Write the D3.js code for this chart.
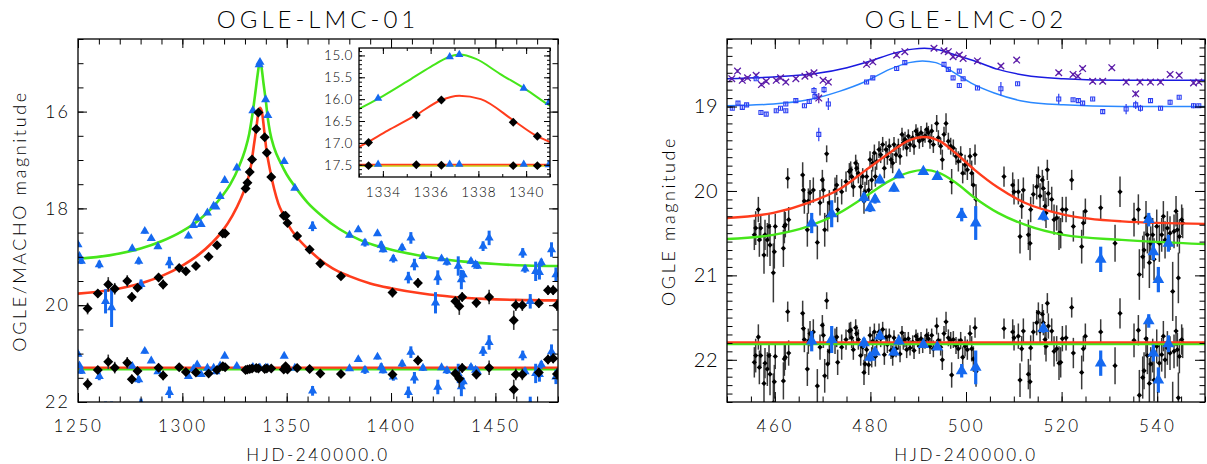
<!DOCTYPE html>
<html><head><meta charset="utf-8">
<script src="https://cdn.jsdelivr.net/npm/d3@7"></script>
<style>
body{margin:0;background:#fff}
svg{display:block}
text{font-family:Lato,'Open Sans',sans-serif;font-weight:300;fill:#000}
</style></head><body>
<svg id="c" width="1207" height="464"></svg>
<script>
// ---------------- Panel 1: OGLE-LMC-01 ----------------
const titles = ["OGLE-LMC-01", "OGLE-LMC-02"];
const xTitle = "HJD-240000.0";
const yTitles = ["OGLE/MACHO magnitude", "OGLE magnitude"];
const p1XTicks = [1250, 1300, 1350, 1400, 1450];
const p1YTicks = [16, 18, 20, 22];
const p1InsetXTicks = [1334, 1336, 1338, 1340];
const p1InsetYTicks = [15.0, 15.5, 16.0, 16.5, 17.0, 17.5];

// model fits
const p1GreenT = [1250,1265,1280,1290,1300,1308,1314,1319,1323,1327,1330,1332,1333,1334,1335,1336,1336.8,1337.2,1337.9,1338.9,1340,1341,1342,1344,1347,1350,1354,1360,1367,1375,1385,1395,1405,1420,1435,1450,1465,1480];
const p1GreenM = [19.04,18.97,18.83,18.68,18.47,18.24,18.0,17.75,17.5,17.15,16.8,16.47,16.22,15.93,15.6,15.26,15.03,14.98,15.08,15.42,15.78,16.15,16.42,16.75,17.05,17.3,17.55,17.88,18.16,18.42,18.65,18.8,18.9,19.02,19.1,19.15,19.18,19.19];
const p1RedT = [1250,1265,1280,1290,1300,1308,1314,1319,1324,1328,1330.3,1332,1333,1334.2,1335.4,1336.4,1337.2,1338.1,1339.5,1340.4,1341,1342.6,1344,1346,1348.6,1351,1355,1361,1366,1372,1380,1390,1400,1415,1430,1445,1460,1480];
const p1RedM = [19.76,19.69,19.55,19.4,19.18,18.95,18.72,18.48,18.15,17.8,17.55,17.3,17.09,16.72,16.36,16.03,15.92,16.0,16.5,16.83,16.98,17.33,17.6,17.9,18.15,18.36,18.6,18.87,19.06,19.24,19.4,19.55,19.65,19.76,19.83,19.87,19.89,19.9];
const p1Resid = 21.3;
const p1InsetResid = 17.5;

// OGLE (black diamonds)
const p1BlackT = [1254.6,1259.5,1264.5,1267.6,1273.6,1275.8,1278.5,1288.6,1290.8,1298.5,1301.7,1306.5,1312.6,1316.6,1319.4,1320.5,1330.3,1331.2,1332.3,1333.4,1335.4,1336.45,1339.46,1340.47,1342.6,1348.6,1349.5,1350.4,1355,1361,1366.1,1376,1400.7,1412.9,1430.8,1432.7,1434.1,1440.9,1447,1458.8,1459.8,1462.9,1470.8,1475.2,1477.7,1479.5];
const p1BlackM = [20.07,19.76,19.57,19.66,19.5,19.83,19.64,19.43,19.57,19.23,19.3,19.19,19.0,18.76,18.52,18.52,17.59,17.47,17.25,16.99,16.36,16.02,16.53,16.85,17.35,18.15,18.15,18.3,18.57,18.85,19.14,19.4,19.74,19.54,19.92,20.02,19.83,19.95,19.83,20.31,20.0,20.0,19.96,19.69,19.69,20.0];
const p1BlackE = [0.12,0.08,0.15,0.12,0.12,0.1,0.08,0.08,0.1,0.07,0.08,0.07,0.06,0.05,0.05,0.05,0.04,0.04,0.04,0.04,0.03,0.03,0.04,0.05,0.04,0.05,0.05,0.05,0.05,0.06,0.08,0.08,0.1,0.1,0.1,0.18,0.1,0.1,0.15,0.2,0.12,0.12,0.1,0.1,0.1,0.12];
const p1BlackR = [21.63,21.34,21.17,21.29,21.19,21.53,21.36,21.29,21.45,21.28,21.38,21.39,21.41,21.34,21.26,21.28,21.34,21.33,21.32,21.31,21.3,21.31,21.32,21.31,21.31,21.33,21.26,21.33,21.3,21.32,21.41,21.42,21.43,21.14,21.41,21.52,21.3,21.43,21.29,21.74,21.43,21.43,21.39,21.12,21.1,21.42];

// MACHO (blue triangles)
const p1BlueT = [1250,1250.7,1251.6,1260.2,1263.2,1266.1,1276,1279.1,1280.2,1282,1285.1,1288.3,1293.8,1302.9,1305.3,1307.1,1309,1312,1315,1316.1,1318.1,1320.3,1326.1,1333.8,1336.8,1337.2,1339.9,1340.95,1348.8,1353.9,1362.4,1380.1,1384.3,1387.5,1393.5,1395.3,1396.2,1401.1,1405.3,1408.3,1409.5,1411.2,1415.3,1421.3,1422.4,1424.2,1426.8,1432.2,1433.7,1434.6,1438.3,1440.5,1441.4,1444.1,1447,1463.1,1464.2,1466.7,1469.3,1471.1,1472,1476.9,1479];
const p1BlueM = [18.75,18.99,19.09,19.16,19.92,20.05,18.83,19.09,19.57,18.47,18.62,18.79,19.12,18.57,18.35,18.2,18.33,18.09,17.95,17.97,17.75,17.42,17.16,15.98,15.03,14.98,15.75,16.08,17.03,17.58,18.37,18.55,18.44,18.71,18.52,18.76,18.85,19.04,18.81,19.43,18.61,19.16,18.99,19.95,19.43,19.04,19.11,19.19,19.47,19.37,19.09,19.16,19.19,18.78,18.61,18.92,19.25,19.92,19.3,19.32,19.12,18.85,19.37];
const p1BlueE = [0.05,0.05,0.06,0.08,0.25,0.4,0.04,0.07,0.1,0.05,0.04,0.05,0.12,0.05,0.04,0.04,0.03,0.03,0.03,0.03,0.03,0.03,0.03,0.02,0.02,0.02,0.02,0.02,0.03,0.03,0.1,0.05,0.04,0.08,0.05,0.08,0.06,0.08,0.07,0.12,0.12,0.12,0.06,0.22,0.15,0.05,0.07,0.2,0.2,0.08,0.06,0.07,0.06,0.1,0.15,0.1,0.08,0.15,0.2,0.15,0.08,0.15,0.15];
const p1BlueR = [21.01,21.25,21.36,21.47,22.24,22.39,21.26,21.54,22.03,20.95,21.15,21.37,21.8,21.47,21.32,21.23,21.43,21.3,21.3,21.37,21.25,21.05,21.26,21.28,21.3,21.3,21.3,21.3,21.05,21.3,21.77,21.31,21.12,21.34,21.07,21.28,21.35,21.48,21.21,21.8,20.97,21.5,21.3,22.22,21.69,21.29,21.35,21.41,21.68,21.58,21.28,21.34,21.37,20.95,20.77,21.04,21.37,22.04,21.41,21.43,21.23,20.96,21.48];

// inset residual rows
const insetBlackT = [1333.4,1335.4,1336.45,1339.46,1340.47];
const insetBlackR = [17.52,17.5,17.51,17.52,17.52];
const insetBlueT = [1333.8,1336.8,1337.2,1339.9,1340.95];
const insetBlueR = [17.49,17.49,17.49,17.49,17.5];

// ---------------- Panel 2: OGLE-LMC-02 ----------------
const p2XTicks = [460, 480, 500, 520, 540];
const p2YTicks = [19, 20, 21, 22];
const p2Resid = 21.8;

const p2DarkT = [450,459.7,468.6,475.1,480,484.8,488.9,491.3,494.5,497.8,501.8,506.7,512.3,520.4,532.6,550];
const p2DarkM = [18.67,18.65,18.61,18.54,18.46,18.37,18.32,18.31,18.33,18.39,18.46,18.56,18.63,18.67,18.69,18.69];
const p2LightT = [450,459.7,467,473.5,479.1,484,488.1,490.9,493.7,497,501,505.9,512.3,520.4,532.6,550];
const p2LightM = [18.99,18.97,18.92,18.82,18.70,18.56,18.48,18.46,18.48,18.58,18.72,18.84,18.94,18.98,19.0,19.0];
const p2RedT = [450,459.7,467,473.5,479.1,484,488.1,491.3,494.5,497.8,501.8,506.7,512.3,520.4,532.6,550];
const p2RedM = [20.32,20.26,20.14,19.98,19.75,19.55,19.40,19.36,19.41,19.55,19.75,19.96,20.14,20.28,20.36,20.39];
const p2GreenT = [450,459.7,467,473.5,479.1,484,488.1,491.3,494.5,497.8,501.8,506.7,512.3,520.4,532.6,550];
const p2GreenM = [20.57,20.52,20.42,20.26,20.06,19.88,19.78,19.75,19.79,19.9,20.08,20.26,20.4,20.52,20.58,20.63];

// crosses (purple)
const p2CrossT = [451.0,452.2,453.2,454.3,456.1,457.2,458.2,460.3,461.2,462.3,464.4,466.3,467.2,468.2,469.2,470.1,471.2,479.2,480.5,485.5,487.2,493.3,495.4,496.3,497.3,498.6,499.4,502.4,507.3,510.6,519.4,522.4,523.4,524.4,526.5,528.6,530.5,533.5,535.5,536.4,538.6,540.7,542.7,544.6,547.6,548.7];
const p2CrossM = [18.67,18.58,18.69,18.66,18.63,18.74,18.70,18.69,18.66,18.71,18.67,18.64,18.62,18.6,18.9,18.69,18.71,18.5,18.47,18.39,18.35,18.31,18.34,18.35,18.41,18.39,18.43,18.46,18.52,18.45,18.6,18.62,18.64,18.55,18.70,18.70,18.54,18.71,18.85,18.71,18.71,18.71,18.62,18.63,18.72,18.71];
const p2CrossE = [0.02,0.02,0.02,0.02,0.02,0.02,0.02,0.02,0.02,0.02,0.02,0.02,0.02,0.02,0.06,0.02,0.02,0.02,0.02,0.02,0.02,0.02,0.02,0.02,0.02,0.02,0.02,0.02,0.02,0.02,0.02,0.02,0.02,0.02,0.02,0.02,0.02,0.02,0.03,0.02,0.02,0.02,0.02,0.02,0.02,0.02];

// squares (blue)
const p2SqT = [451.1,452.3,453.2,454.1,456.1,457.1,458.2,460.3,461.2,462.3,462.3,464.4,466.2,467.2,468.2,468.4,469.2,470.3,471.2,479.2,480.5,485.5,487.2,495.4,496.3,497.3,498.6,498.6,499.4,502.4,507.3,510.8,519.4,522.4,523.5,524.4,526.5,528.6,533.5,535.5,536.5,538.6,540.7,542.7,544.6,547.6,548.7];
const p2SqM = [19.02,18.96,19.01,18.98,18.67,19.07,19.09,19.05,19.02,19.05,18.97,18.93,18.99,18.94,18.81,18.88,19.33,18.8,18.97,18.71,18.66,18.55,18.48,18.5,18.56,18.66,18.58,18.75,18.67,18.78,18.79,18.73,18.91,18.92,18.93,18.96,18.91,19.06,19.03,18.98,19.02,18.93,19.02,18.95,18.89,18.99,18.99];
const p2SqE = [0.02,0.02,0.02,0.02,0.02,0.02,0.02,0.02,0.02,0.02,0.02,0.02,0.02,0.02,0.04,0.04,0.08,0.04,0.07,0.02,0.02,0.02,0.02,0.02,0.02,0.02,0.02,0.02,0.02,0.02,0.08,0.02,0.06,0.02,0.02,0.02,0.02,0.02,0.06,0.05,0.04,0.02,0.02,0.03,0.02,0.03,0.02];

// OGLE black points
const p2BlackT = [455.72,456.0,456.56,456.77,457.05,457.74,457.95,458.44,458.79,459.0,459.7,459.9,460.1,461.8,462.0,462.2,462.7,462.9,
465.83,465.97,466.18,466.81,467.02,467.37,468.06,468.9,469.46,469.95,470.16,470.44,470.85,471.06,471.41,472.6,472.95,473.15,473.99,
474.9,475.6,475.87,476.08,476.43,476.92,477.13,477.48,477.97,478.39,478.66,478.87,479.22,479.64,479.92,480.27,480.48,480.83,481.04,481.31,
481.8,482.15,482.57,482.92,483.27,483.55,483.96,484.31,484.66,484.94,485.36,485.85,486.2,486.61,486.89,487.24,487.59,487.94,488.29,
488.85,489.13,489.54,489.89,490.24,490.59,490.94,491.43,491.78,492.12,492.47,492.82,493.17,493.87,494.22,494.7,495.05,495.4,495.82,496.31,496.8,497.0,497.35,
497.91,498.4,498.89,499.31,499.8,500.28,500.84,501.19,501.54,501.89,502.1,
507.95,509.77,510.05,510.95,511.3,511.65,512.0,513.05,513.4,513.53,514.09,514.79,515.14,515.49,515.97,516.18,516.53,516.74,517.02,517.23,
517.93,518.42,518.97,519.46,519.81,520.16,520.93,522.11,522.46,524.2,524.55,524.97,
528.18,531.18,532.22,
535.15,536.06,536.27,536.97,537.25,537.66,537.94,538.36,538.64,539.06,539.34,539.9,540.45,540.94,541.29,541.64,542.13,542.68,543.24,543.52,543.94,544.22,544.43,544.64,545.12,545.33];
const p2BlackM = [20.52,20.44,20.22,20.58,20.44,20.76,20.52,20.58,20.42,20.64,20.97,20.72,20.42,20.68,20.42,20.40,19.85,20.34,
19.81,19.99,20.12,20.46,20.12,20.02,19.99,20.61,20.14,19.87,19.99,20.46,19.56,20.30,20.14,19.99,19.93,20.22,20.01,
19.89,19.77,19.75,19.83,19.95,19.67,19.73,19.79,19.95,19.83,20.12,20.01,19.83,19.99,19.63,19.87,19.67,19.55,19.83,19.65,
19.51,19.57,19.45,19.73,19.51,19.59,19.47,19.63,19.67,19.45,19.57,19.47,19.59,19.33,19.43,19.39,19.49,19.35,19.45,
19.37,19.47,19.29,19.33,19.41,19.31,19.39,19.35,19.27,19.31,19.41,19.29,19.45,19.20,19.37,19.47,19.63,19.33,19.20,19.41,19.47,19.89,19.49,
19.59,19.65,19.57,19.79,19.69,19.75,19.59,19.79,19.93,19.57,20.10,
19.83,19.93,20.01,20.01,20.54,20.18,19.99,20.52,20.62,20.22,20.04,19.95,19.83,20.06,19.87,19.97,20.18,20.26,19.75,20.03,
20.10,20.34,20.32,20.50,20.50,20.22,20.22,19.87,20.42,20.66,20.38,20.24,
20.20,20.62,20.01,
20.34,20.22,20.99,20.78,20.70,20.32,20.52,20.85,20.62,20.52,20.81,20.42,20.62,20.52,20.30,20.58,20.44,20.50,21.19,20.48,20.24,20.46,21.03,20.54,20.34,20.38];
const p2BlackE = [0.18,0.2,0.15,0.2,0.15,0.22,0.18,0.2,0.15,0.25,0.35,0.2,0.15,0.22,0.2,0.15,0.12,0.15,
0.15,0.18,0.15,0.2,0.15,0.15,0.15,0.2,0.15,0.12,0.15,0.2,0.1,0.18,0.15,0.15,0.12,0.15,0.15,
0.12,0.1,0.1,0.12,0.12,0.1,0.1,0.12,0.12,0.1,0.15,0.12,0.1,0.12,0.1,0.12,0.1,0.1,0.12,0.1,
0.1,0.1,0.09,0.12,0.1,0.1,0.09,0.1,0.12,0.09,0.1,0.09,0.1,0.08,0.09,0.09,0.1,0.08,0.09,
0.08,0.1,0.08,0.08,0.09,0.08,0.09,0.08,0.08,0.08,0.09,0.08,0.1,0.1,0.09,0.1,0.12,0.09,0.12,0.1,0.1,0.15,0.1,
0.1,0.12,0.1,0.12,0.12,0.12,0.1,0.15,0.15,0.12,0.18,
0.12,0.15,0.15,0.15,0.2,0.15,0.15,0.18,0.2,0.15,0.12,0.15,0.12,0.15,0.12,0.15,0.18,0.18,0.12,0.15,
0.15,0.18,0.15,0.2,0.18,0.15,0.15,0.12,0.18,0.2,0.15,0.15,
0.15,0.22,0.18,
0.2,0.18,0.3,0.25,0.22,0.2,0.22,0.3,0.2,0.2,0.25,0.2,0.22,0.2,0.18,0.22,0.2,0.2,0.35,0.2,0.18,0.2,0.3,0.2,0.18,0.18];
const p2BlackR = [22.03,21.95,21.73,22.09,21.95,22.28,22.04,22.11,21.95,22.17,22.51,22.26,21.96,22.25,21.99,21.97,21.43,21.92,
21.45,21.63,21.76,22.11,21.78,21.69,21.67,22.31,21.85,21.59,21.71,22.19,21.30,22.05,21.9,21.78,21.73,22.03,21.85,
21.76,21.66,21.65,21.74,21.88,21.62,21.69,21.76,21.95,21.85,22.15,22.05,21.88,22.06,21.71,21.97,21.78,21.67,21.96,21.79,
21.67,21.75,21.64,21.94,21.73,21.82,21.72,21.89,21.95,21.74,21.87,21.79,21.93,21.68,21.79,21.76,21.88,21.75,21.86,
21.79,21.89,21.72,21.76,21.84,21.75,21.83,21.79,21.71,21.75,21.84,21.71,21.87,21.60,21.77,21.85,22.0,21.69,21.55,21.74,21.77,22.18,21.76,
21.83,21.87,21.77,21.97,21.84,21.88,21.69,21.87,21.99,21.62,22.14,
21.63,21.67,21.74,21.72,22.24,21.87,21.66,22.17,22.26,21.86,21.67,21.56,21.44,21.66,21.46,21.56,21.76,21.84,21.33,21.60,
21.66,21.90,21.87,22.04,22.03,21.75,21.74,21.38,21.92,22.15,21.87,21.72,
21.67,22.07,21.45,
21.77,21.65,22.42,22.21,22.13,21.75,21.95,22.28,22.05,21.95,22.24,21.84,22.04,21.94,21.72,22.0,21.86,21.92,22.61,21.90,21.66,21.88,22.45,21.96,21.76,21.80];

// blue arrows
const p2BlueT = [467.72,471.9,478.66,479.92,480.97,482.0,484.94,485.99,491.08,494.0,499.1,502.03,516.18,528.18,538.23,539.2,540.24,542.34];
const p2BlueM = [20.38,20.27,20.08,20.20,20.10,19.87,19.97,19.81,19.77,19.83,20.28,20.38,20.30,20.81,20.34,20.72,21.05,20.62];
const p2BlueE = [0.12,0.16,0.06,0.05,0.05,0.04,0.04,0.04,0.03,0.03,0.08,0.2,0.05,0.15,0.08,0.1,0.15,0.1];
const p2BlueR = [21.78,21.76,21.80,21.97,21.91,21.72,21.91,21.78,21.82,21.85,22.13,22.09,21.63,22.04,21.54,21.92,22.24,21.81];

// ---------------- drawing ----------------
const C = {
  black: "#000", ebar: "#3a3a3a", blue: "#1569f0", green: "#46e61a", red: "#ff3c1c",
  purple: "#5a1aa8", darkblue: "#1a1ae0", lightblue: "#2a88ff", square: "#2b3ef2"
};
const svg = d3.select("#c");
const FONT = "Lato,'Open Sans',sans-serif";

function ticksAll(g, x, y, cfg) {
  const [x0, x1] = x.range(), [y0, y1] = y.range(); // y0 top, y1 bottom
  const sides = [
    [d3.axisBottom, x, `translate(0,${y1})`, true, cfg.xMinor, cfg.xMajor],
    [d3.axisTop, x, `translate(0,${y0})`, false, cfg.xMinor, cfg.xMajor],
    [d3.axisLeft, y, `translate(${x0},0)`, true, cfg.yMinor, cfg.yMajor],
    [d3.axisRight, y, `translate(${x1},0)`, false, cfg.yMinor, cfg.yMajor]
  ];
  sides.forEach(([fn, sc, tr, lab, minor, major], i) => {
    const isX = i < 2;
    const mn = g.append("g").attr("transform", tr)
      .call(fn(sc).tickValues(minor).tickSizeInner(-cfg.minorLen).tickSizeOuter(0).tickFormat(""));
    mn.select(".domain").remove();
    const a = fn(sc).tickValues(major).tickSizeInner(-cfg.majorLen).tickSizeOuter(0)
      .tickPadding(isX ? cfg.xPad : cfg.yPad)
      .tickFormat(lab ? (isX ? cfg.xFmt : cfg.yFmt) : "");
    const mj = g.append("g").attr("transform", tr).call(a);
    mj.select(".domain").remove();
    g.selectAll("line").attr("stroke", "#000").attr("stroke-width", 1);
    mj.selectAll("text").attr("font-family", FONT).attr("font-weight", 300)
      .attr("font-size", isX ? cfg.xFont : cfg.yFont)
      .attr("letter-spacing", isX ? cfg.xLs : cfg.yLs).attr("fill", "#000");
  });
  g.append("rect").attr("x", x0).attr("y", y0).attr("width", x1 - x0).attr("height", y1 - y0)
    .attr("fill", "none").attr("stroke", "#000").attr("stroke-width", 1.3);
}

function curve(g, x, y, T, M, color, w, dy) {
  g.append("path").datum(d3.range(T.length))
    .attr("d", d3.line().x(i => x(T[i])).y(i => y(M[i]) + (dy || 0)).curve(d3.curveMonotoneX))
    .attr("fill", "none").attr("stroke", color).attr("stroke-width", w);
}
function hline(g, x, y, v, color, w, dy) {
  const [a, b] = x.domain();
  curve(g, x, y, [a, b], [v, v], color, w, dy);
}
function ebars(g, x, y, T, M, E, color, w) {
  g.append("g").selectAll("line").data(d3.range(T.length)).join("line")
    .attr("x1", i => x(T[i])).attr("x2", i => x(T[i]))
    .attr("y1", i => y(M[i] - E[i])).attr("y2", i => y(M[i] + E[i]))
    .attr("stroke", color).attr("stroke-width", w);
}
function markers(g, x, y, T, M, type, size, fill, stroke, sw, rot) {
  g.append("g").selectAll("path").data(d3.range(T.length)).join("path")
    .attr("d", d3.symbol().type(type).size(size))
    .attr("transform", i => `translate(${x(T[i])},${y(M[i])})` + (rot ? ` rotate(${rot})` : ""))
    .attr("fill", fill).attr("stroke", stroke || "none").attr("stroke-width", sw || 0);
}
function clip(id, x, y) {
  const [x0, x1] = x.range(), [y0, y1] = y.range();
  svg.append("clipPath").attr("id", id).append("rect")
    .attr("x", x0).attr("y", y0).attr("width", x1 - x0).attr("height", y1 - y0);
  return svg.append("g").attr("clip-path", `url(#${id})`);
}
function label(txt, x, y, size, ls, rot) {
  svg.append("text").text(txt).attr("x", 0).attr("y", 0)
    .attr("transform", `translate(${x},${y})` + (rot ? ` rotate(${rot})` : ""))
    .attr("text-anchor", "middle").attr("font-size", size).attr("letter-spacing", ls)
    .attr("font-family", FONT).attr("font-weight", 300);
}

// ---- Panel 1
const x1s = d3.scaleLinear().domain([1250, 1480]).range([78, 558]);
const y1s = d3.scaleLinear().domain([14.5, 22]).range([39, 402]);
const g1 = clip("cp1", x1s, y1s);
curve(g1, x1s, y1s, p1GreenT, p1GreenM, C.green, 2.6);
curve(g1, x1s, y1s, p1RedT, p1RedM, C.red, 2.6);
hline(g1, x1s, y1s, p1Resid, C.green, 2.4, 1.2);
hline(g1, x1s, y1s, p1Resid, C.red, 2.2, -0.4);
ebars(g1, x1s, y1s, p1BlueT, p1BlueM, p1BlueE, C.blue, 3);
ebars(g1, x1s, y1s, p1BlueT, p1BlueR, p1BlueE, C.blue, 3);
markers(g1, x1s, y1s, p1BlueT, p1BlueM, d3.symbolTriangle, 36, C.blue);
markers(g1, x1s, y1s, p1BlueT, p1BlueR, d3.symbolTriangle, 36, C.blue);
ebars(g1, x1s, y1s, p1BlackT, p1BlackM, p1BlackE, C.ebar, 1.6);
ebars(g1, x1s, y1s, p1BlackT, p1BlackR, p1BlackE, C.ebar, 1.6);
markers(g1, x1s, y1s, p1BlackT, p1BlackM, d3.symbolSquare, 50, C.black, null, 0, 45);
markers(g1, x1s, y1s, p1BlackT, p1BlackR, d3.symbolSquare, 50, C.black, null, 0, 45);
const ax1 = svg.append("g");
ticksAll(ax1, x1s, y1s, {
  xMajor: p1XTicks, xMinor: d3.range(1250, 1481, 10), yMajor: p1YTicks, yMinor: d3.range(14.5, 22.01, 0.5),
  majorLen: 9, minorLen: 5.5, xPad: 18, yPad: 8, xFmt: d3.format("d"), yFmt: d3.format("d"),
  xFont: 17, yFont: 18, xLs: 2.6, yLs: 2
});

// inset
const xi = d3.scaleLinear().domain([1333, 1341]).range([359, 550]);
const yi = d3.scaleLinear().domain([14.83, 17.78]).range([48, 177]);
svg.append("rect").attr("x", 359).attr("y", 48).attr("width", 191).attr("height", 129).attr("fill", "#fff");
const gi = clip("cpi", xi, yi);
curve(gi, xi, yi, p1GreenT, p1GreenM, C.green, 2);
curve(gi, xi, yi, p1RedT, p1RedM, C.red, 2);
hline(gi, xi, yi, p1InsetResid, "#c8d21a", 2.2, 0.8);
hline(gi, xi, yi, p1InsetResid, C.red, 1.6, -0.3);
markers(gi, xi, yi, p1BlueT, p1BlueM, d3.symbolTriangle, 30, C.blue);
markers(gi, xi, yi, insetBlueT, insetBlueR, d3.symbolTriangle, 30, C.blue);
markers(gi, xi, yi, p1BlackT, p1BlackM, d3.symbolSquare, 40, C.black, null, 0, 45);
markers(gi, xi, yi, insetBlackT, insetBlackR, d3.symbolSquare, 40, C.black, null, 0, 45);
const axi = svg.append("g");
ticksAll(axi, xi, yi, {
  xMajor: p1InsetXTicks, xMinor: d3.range(1333, 1341.01, 1), yMajor: p1InsetYTicks, yMinor: d3.range(14.9, 17.75, 0.1),
  majorLen: 6, minorLen: 3, xPad: 10, yPad: 6, xFmt: d3.format("d"), yFmt: d3.format(".1f"),
  xFont: 13.5, yFont: 13.5, xLs: 1, yLs: 0.6
});

// ---- Panel 2
const x2s = d3.scaleLinear().domain([450, 550]).range([727, 1205]);
const y2s = d3.scaleLinear().domain([18.2, 22.5]).range([39, 402]);
const g2 = clip("cp2", x2s, y2s);
ebars(g2, x2s, y2s, p2BlackT, p2BlackM, p2BlackE, C.ebar, 1.5);
ebars(g2, x2s, y2s, p2BlackT, p2BlackR, p2BlackE, C.ebar, 1.5);
markers(g2, x2s, y2s, p2BlackT, p2BlackM, d3.symbolSquare, 14, C.black, null, 0, 45);
markers(g2, x2s, y2s, p2BlackT, p2BlackR, d3.symbolSquare, 14, C.black, null, 0, 45);
curve(g2, x2s, y2s, p2DarkT, p2DarkM, C.darkblue, 1.5);
curve(g2, x2s, y2s, p2LightT, p2LightM, C.lightblue, 1.5);
curve(g2, x2s, y2s, p2RedT, p2RedM, C.red, 2.4);
curve(g2, x2s, y2s, p2GreenT, p2GreenM, C.green, 2.4);
hline(g2, x2s, y2s, p2Resid, C.green, 2.2, 1.2);
hline(g2, x2s, y2s, p2Resid, C.red, 2, -0.6);
ebars(g2, x2s, y2s, p2CrossT, p2CrossM, p2CrossE, C.purple, 1.2);
markers(g2, x2s, y2s, p2CrossT, p2CrossM, d3.symbolTimes, 30, "none", C.purple, 1.3);
ebars(g2, x2s, y2s, p2SqT, p2SqM, p2SqE, C.square, 1.2);
markers(g2, x2s, y2s, p2SqT, p2SqM, d3.symbolSquare, 16, "none", C.square, 1.1);
ebars(g2, x2s, y2s, p2BlueT, p2BlueM, p2BlueE, C.blue, 3.2);
ebars(g2, x2s, y2s, p2BlueT, p2BlueR, p2BlueE, C.blue, 3.2);
markers(g2, x2s, y2s, p2BlueT, p2BlueM, d3.symbolTriangle, 60, C.blue);
markers(g2, x2s, y2s, p2BlueT, p2BlueR, d3.symbolTriangle, 60, C.blue);
const ax2 = svg.append("g");
ticksAll(ax2, x2s, y2s, {
  xMajor: p2XTicks, xMinor: d3.range(450, 550.1, 5), yMajor: p2YTicks, yMinor: d3.range(18.2, 22.51, 0.1),
  majorLen: 10, minorLen: 5.5, xPad: 18, yPad: 9, xFmt: d3.format("d"), yFmt: d3.format("d"),
  xFont: 17, yFont: 20, xLs: 2.6, yLs: 0.5
});

// titles
label(titles[0], 318, 28, 24, 4);
label(titles[1], 966, 28, 24, 4);
label(xTitle, 318, 461, 17, 2.6);
label(xTitle, 966, 461, 17, 2.6);
label(yTitles[0], 26, 221, 18, 2.6, -90);
label(yTitles[1], 675, 221, 18, 2.6, -90);
</script>
</body></html>
